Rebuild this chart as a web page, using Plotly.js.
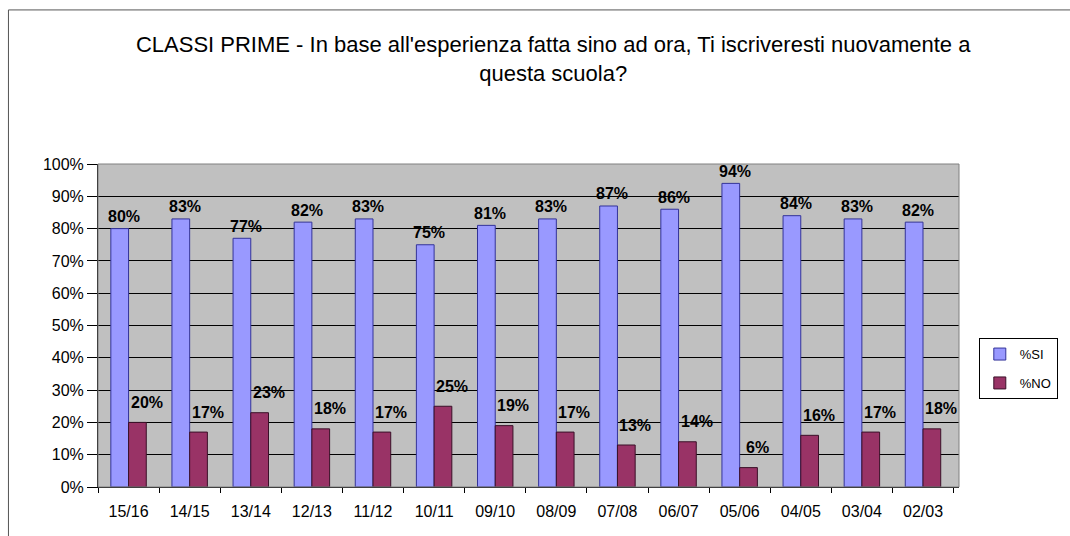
<!DOCTYPE html>
<html><head><meta charset="utf-8">
<script src="https://cdn.plot.ly/plotly-3.0.1.min.js"></script>
<style>html,body{margin:0;padding:0;background:#fff;}</style>
</head><body>
<div id="chart" style="width:1070px;height:536px;"></div>
<script>
const categories = ['15/16','14/15','13/14','12/13','11/12','10/11','09/10','08/09','07/08','06/07','05/06','04/05','03/04','02/03'];
const valuesSI = [0.80,0.83,0.77,0.82,0.83,0.75,0.81,0.83,0.87,0.86,0.94,0.84,0.83,0.82];
const valuesNO = [0.20,0.17,0.23,0.18,0.17,0.25,0.19,0.17,0.13,0.14,0.06,0.16,0.17,0.18];
const seriesNames = ['%SI','%NO'];
const titleText = "CLASSI PRIME - In base all'esperienza fatta sino ad ora, Ti iscriveresti nuovamente a<br>questa scuola?";

const FONT = 'Liberation Sans, Arial, sans-serif';
const pct = v => Math.round(v*100) + '%';

const traces = [
  {type:'bar', name:seriesNames[0], legendgroup:'a', x:categories, y:valuesSI,
   marker:{color:'#9999FF', line:{color:'#333399', width:1}}, hoverinfo:'skip'},
  {type:'bar', name:seriesNames[1], legendgroup:'b', x:categories, y:valuesNO,
   marker:{color:'#993366', line:{color:'#3a1028', width:1}}, hoverinfo:'skip'}
];

const annotations = [];
categories.forEach((c,i)=>{
  annotations.push({x:c, y:valuesSI[i], xref:'x', yref:'y', text:pct(valuesSI[i]), showarrow:false,
    xshift:-5, yshift:12, font:{family:FONT, size:16, color:'#000', weight:'bold'}});
  annotations.push({x:c, y:valuesNO[i], xref:'x', yref:'y', text:pct(valuesNO[i]), showarrow:false,
    xshift:18, yshift:20, font:{family:FONT, size:16, color:'#000', weight:'bold'}});
});

const layout = {
  width:1070, height:536,
  margin:{l:98, r:108, t:164, b:49, pad:0},
  paper_bgcolor:'#ffffff', plot_bgcolor:'#C0C0C0',
  font:{family:FONT, size:14, color:'#000'},
  title:{text:titleText, font:{family:FONT, size:22, color:'#000'},
         xref:'container', yref:'container', x:0.517, xanchor:'center', y:0.903, yanchor:'top'},
  barmode:'group', bargap:0.42, bargroupgap:0,
  showlegend:true,
  legend:{x:1.023, xanchor:'left', y:0.461, yanchor:'top', bgcolor:'#ffffff', bordercolor:'#000', borderwidth:1,
          font:{family:FONT, size:13, color:'#000'}, tracegroupgap:9, itemwidth:30},
  xaxis:{type:'category', tickson:'boundaries', ticks:'outside', ticklen:5, tickcolor:'#000',
         showline:true, linecolor:'#000', linewidth:1, showgrid:false, fixedrange:true, ticklabelstandoff:10,
         tickfont:{family:FONT, size:16, color:'#000'}},
  yaxis:{range:[0,1], dtick:0.1, tickformat:'.0%', ticks:'outside', ticklen:10, tickcolor:'#000',
         showline:true, linecolor:'#000', linewidth:1, showgrid:true, gridcolor:'#000', gridwidth:1,
         zeroline:false, fixedrange:true, tickfont:{family:FONT, size:16, color:'#000'}},
  annotations:annotations,
  shapes:[
    {type:'rect', xref:'paper', yref:'paper', x0:0, x1:1, y0:0, y1:1, line:{color:'#808080', width:1}, layer:'above'},
    {type:'rect', xref:'paper', yref:'paper', x0:-0.104, x1:1.3, y0:-0.3, y1:1.477, line:{color:'#555', width:1}, layer:'below'}
  ]
};

Plotly.newPlot('chart', traces, layout, {displayModeBar:false, staticPlot:true});
</script>
</body></html>
